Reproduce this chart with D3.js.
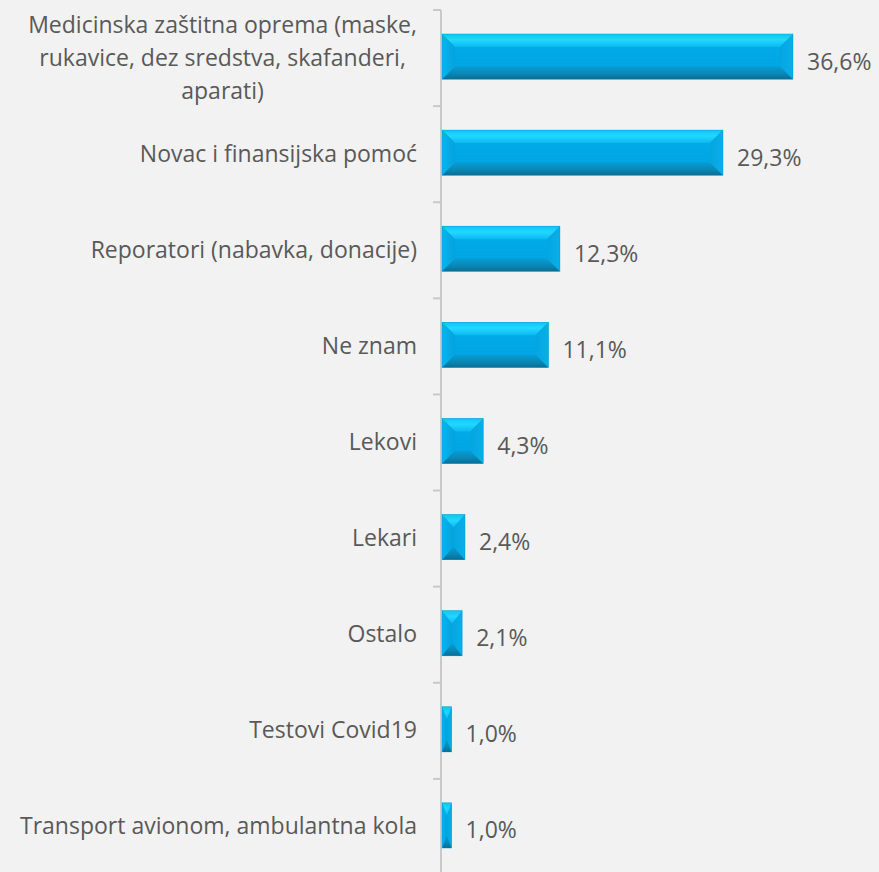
<!DOCTYPE html>
<html>
<head>
<meta charset="utf-8">
<script src="https://cdn.jsdelivr.net/npm/d3@7"></script>
<style>
  html, body { margin: 0; padding: 0; background: #f2f2f2; }
  svg { display: block; }
</style>
</head>
<body>
<script>
'use strict';
// data
let categories = [
  'Medicinska zaštitna oprema (maske,|rukavice, dez sredstva, skafanderi,|aparati)',
  'Novac i finansijska pomoć',
  'Reporatori (nabavka, donacije)',
  'Ne znam',
  'Lekovi',
  'Lekari',
  'Ostalo',
  'Testovi Covid19',
  'Transport avionom, ambulantna kola'
];
let values = [36.6, 29.3, 12.3, 11.1, 4.3, 2.4, 2.1, 1.0, 1.0];
let valueLabels = ['36,6%', '29,3%', '12,3%', '11,1%', '4,3%', '2,4%', '2,1%', '1,0%', '1,0%'];

let width = 879, height = 872;
let axisX = 442;

let svg = d3.select('body').append('svg').attr('width', width).attr('height', height);
svg.append('rect').attr('width', width).attr('height', height).attr('fill', '#f2f2f2');

let x = d3.scaleLinear().domain([0, 40]).range([axisX, axisX + 9.59 * 40]);
let y = d3.scaleBand().domain(categories).range([10, 875]).paddingInner(0).paddingOuter(0);

let defs = svg.append('defs');
function grad(id, stops, x2, y2) {
  let g = defs.append('linearGradient').attr('id', id)
    .attr('x1', 0).attr('y1', 0).attr('x2', x2).attr('y2', y2);
  stops.forEach(function(s){ g.append('stop').attr('offset', s[0]).attr('stop-color', s[1]); });
}
grad('gTop', [[0, '#12c4f2'], [0.45, '#22d8ff'], [1, '#0bb8f0']], 0, 1);
grad('gBot', [[0, '#069ed6'], [0.6, '#0a86b4'], [1, '#0b6d92']], 0, 1);
grad('gLeft', [[0, '#08b4ee'], [1, '#05a2dc']], 1, 0);
grad('gRight', [[0, '#04a6e2'], [1, '#0aaee8']], 1, 0);
grad('gMid', [[0, '#03acea'], [1, '#00a4e2']], 0, 1);

// axis line and ticks
svg.append('line')
  .attr('x1', axisX - 1).attr('x2', axisX - 1).attr('y1', 10).attr('y2', height)
  .attr('stroke', '#c9c9c9').attr('stroke-width', 2);
let tickYs = categories.map(function(c){ return y(c); }).concat([y.range()[1]]);
svg.selectAll('.tick').data(tickYs).enter().append('line')
  .attr('x1', axisX - 9).attr('x2', axisX - 1)
  .attr('y1', function(d){ return d; }).attr('y2', function(d){ return d; })
  .attr('stroke', '#c9c9c9').attr('stroke-width', 2);

let barH = y.bandwidth() * 0.47;

let bars = svg.selectAll('.bar').data(values).enter().append('g').attr('class', 'bar');
bars.each(function(v, i){
  let g = d3.select(this);
  let x0 = x(0), x1 = x(v);
  let cy = y(categories[i]) + y.bandwidth() / 2 - 1.5;
  let y0 = cy - barH / 2, y1 = cy + barH / 2;
  let w = x1 - x0;
  let bh = Math.min(13, w / 2);
  let bv = Math.min(13, barH / 2);
  g.append('rect').attr('x', x0).attr('y', y0).attr('width', w).attr('height', barH).attr('fill', 'url(#gMid)');
  let pts = function(a){ return a.map(function(p){ return p.join(','); }).join(' '); };
  // top face
  g.append('polygon').attr('points', pts([[x0, y0], [x1, y0], [x1 - bh, y0 + bv], [x0 + bh, y0 + bv]])).attr('fill', 'url(#gTop)');
  // bottom face
  g.append('polygon').attr('points', pts([[x0 + bh, y1 - bv], [x1 - bh, y1 - bv], [x1, y1], [x0, y1]])).attr('fill', 'url(#gBot)');
  // left face
  g.append('polygon').attr('points', pts([[x0, y0], [x0 + bh, y0 + bv], [x0 + bh, y1 - bv], [x0, y1]])).attr('fill', 'url(#gLeft)');
  // right face
  g.append('polygon').attr('points', pts([[x1, y0], [x1, y1], [x1 - bh, y1 - bv], [x1 - bh, y0 + bv]])).attr('fill', 'url(#gRight)');
  g.append('rect').attr('x', x0).attr('y', y0).attr('width', w).attr('height', barH)
    .attr('fill', 'none').attr('stroke', '#0a8fc4').attr('stroke-width', 0.6).attr('stroke-opacity', 0.6);

  // value label
  g.append('text').attr('x', x1 + 14).attr('y', cy + 13)
    .attr('font-family', '"Open Sans", sans-serif').attr('font-size', 23).attr('fill', '#595959')
    .text(valueLabels[i]);
});

// category labels
let labelRight = 417;
let lineH = 33;
categories.forEach(function(c){
  let lines = c.split('|');
  let cy = y(c) + y.bandwidth() / 2 - 1.5;
  let t = svg.append('text')
    .attr('font-family', '"Open Sans", sans-serif').attr('font-size', 23).attr('fill', '#595959');
  if (lines.length === 1) {
    t.attr('x', labelRight).attr('y', cy + 9).attr('text-anchor', 'end').text(lines[0]);
  } else {
    let top = cy - (lines.length - 1) * lineH / 2 + 9;
    let spans = lines.map(function(l, k){
      return t.append('tspan').attr('y', top + k * lineH).text(l);
    });
    let maxW = d3.max(spans, function(s){ return s.node().getComputedTextLength(); });
    let cx = labelRight - maxW / 2;
    spans.forEach(function(s){ s.attr('x', cx).attr('text-anchor', 'middle'); });
  }
});
</script>
</body>
</html>
